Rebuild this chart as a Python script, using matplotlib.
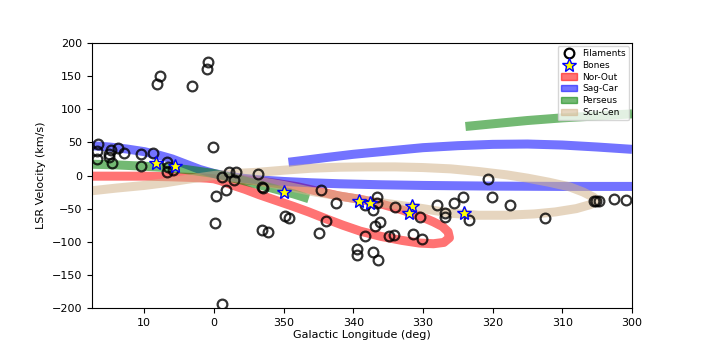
"""LSR velocity vs galactic longitude: filaments, bones and spiral arm tracks."""
import numpy as np
import matplotlib
matplotlib.use("Agg")
import matplotlib.pyplot as plt
from matplotlib.patches import Patch
from matplotlib.lines import Line2D

# --- filaments (l in deg, v in km/s) ---
fil_l = [16.7, 16.8, 16.8, 15.1, 14.8, 15.0, 14.6, 13.7, 12.9, 10.4, 10.5, 8.7,
         6.8, 6.6, 6.7, 5.9, 0.1, 358.8, 357.8, 356.9, 357.1, 353.7, 353.1, 353.0,
         359.7, 358.2, 359.8, 349.8, 349.2, 353.1, 352.3, 358.8, 0.9, 1.0, 7.7, 8.1,
         3.1, 344.7, 342.5, 343.9, 344.9, 338.3, 339.5, 339.4, 337.2, 336.4, 336.6,
         336.6, 338.3, 337.2, 336.2, 336.9, 334.9, 334.1, 334.0, 331.4, 330.2, 330.4,
         328.0, 326.9, 326.8, 325.6, 324.2, 323.4, 320.6, 320.1, 317.5, 312.5, 305.5,
         305.1, 304.8, 302.6, 300.8]
fil_v = [47.5, 37.4, 24.5, 32.5, 38.5, 28.4, 19.3, 41.1, 33.5, 32.5, 14.3, 33.5,
         19.9, 13.3, 5.7, 8.3, 42.6, -2.7, 5.0, 4.8, -7.5, 2.0, -17.8, -18.9,
         -30.5, -21.9, -72.2, -61.1, -64.6, -82.3, -85.3, -194.4, 171.3, 160.8, 150.6, 137.7,
         135.5, -21.9, -42.0, -68.2, -86.3, -90.9, -110.5, -120.0, -115.0, -127.5, -32.0,
         -40.8, -44.5, -52.5, -70.9, -76.2, -90.9, -89.4, -47.5, -87.8, -96.3, -62.2,
         -45.0, -56.6, -63.1, -41.1, -32.5, -66.7, -5.3, -32.8, -44.5, -64.2, -39.2,
         -38.0, -38.0, -35.5, -37.0]

# --- bones ---
bone_l = [8.3, 5.6, 349.9, 339.2, 337.6, 331.6, 332.0, 324.1]
bone_v = [18.4, 14.3, -24.5, -38.2, -41.1, -46.5, -56.6, -56.6]

# --- spiral arm tracks (l wrapped to -180..180) ---
norout_l = [17.5, 14, 10, 6, 3, 1, 0, -1, -2.5, -4.5, -6.5, -9, -11.5, -13.6, -16, -18.5,
            -21, -24, -27, -29.5, -31.5, -33, -33.8, -33.6, -32.8, -31.5, -29.5, -27, -24,
            -21, -18, -15, -12, -9, -6, -3, -1]
norout_v = [-1, -1, -1, -2, -3, -4, -5, -8, -14, -21, -29, -38, -47, -55, -65, -75,
            -84, -92, -98, -102, -103, -101, -94, -85, -77, -70, -61, -52, -43,
            -36, -31, -24, -17, -12, -8, -5, -4]

sagcar_l1 = [17.5, 15, 12.5, 10, 8, 6, 4, 2, 0, -2, -4, -7, -10, -14, -18, -24, -30, -40, -50, -60]
sagcar_v1 = [45, 43, 40, 36, 31, 25, 17, 9, 3, -1, -4, -7, -9, -11, -12.5, -14, -15, -16, -16.5, -16.5]
sagcar_l2 = [-10.7, -13, -16, -20, -25, -30, -35, -40, -45, -50, -55, -60]
sagcar_v2 = [20, 23, 27, 32, 37, 42, 45, 47, 47.5, 46, 43, 39.5]

perseus_l1 = [17.5, 14, 10, 7, 4, 2, 0, -2, -4, -6.5, -9, -11.5, -13.6]
perseus_v1 = [17, 16, 14, 12, 9, 6, 3, -2, -7, -14, -21, -28, -35]
perseus_l2 = [-36.1, -40, -45, -50, -55, -60]
perseus_v2 = [74, 78, 83, 87, 90, 93]

scucen_l = [17.5, 14, 10, 7, 4, 2, 0, -3, -6.5, -10, -14, -18, -22, -26, -30, -34, -38,
            -42, -45, -48, -51, -53, -54.5, -55, -54, -52, -49, -46, -42, -38, -34, -30,
            -26, -22, -18, -14, -10, -6, -3, 0]
scucen_v = [-23, -19, -15, -11, -6, -3, 0, 3, 5, 8, 11, 12.5, 13, 13, 12, 10, 6,
            1, -4, -10, -17, -25, -33, -38, -44, -50, -55, -58, -60, -60, -57, -50,
            -44, -38, -31, -24, -15, -8, -3, 0]

xticks = [10, 0, -10, -20, -30, -40, -50, -60]
yticks = [-200, -150, -100, -50, 0, 50, 100, 150, 200]


def wrap(l):
    l = np.asarray(l, dtype=float)
    return np.where(l > 180, l - 360, l)


fig = plt.figure(figsize=(7.06, 3.53), dpi=100)
ax = fig.add_axes([92 / 706, 1 - 308 / 353, 540 / 706, 265 / 353])

arm_kw = dict(lw=6.5, alpha=0.55, solid_capstyle='butt', solid_joinstyle='round', zorder=1)
ax.plot(norout_l, norout_v, color='red', **arm_kw)
ax.plot(sagcar_l1, sagcar_v1, color='blue', **arm_kw)
ax.plot(sagcar_l2, sagcar_v2, color='blue', **arm_kw)
ax.plot(perseus_l1, perseus_v1, color='green', **arm_kw)
ax.plot(perseus_l2, perseus_v2, color='green', **arm_kw)
ax.plot(scucen_l, scucen_v, color='tan', **arm_kw)

ax.plot(wrap(fil_l), fil_v, 'o', ms=7, mfc='none', mec='black', mew=1.6, alpha=0.8, zorder=3)
ax.plot(wrap(bone_l), bone_v, '*', ms=10, mfc='yellow', mec='blue', mew=1, zorder=4)

ax.set_xlim(17.5, -60)
ax.set_ylim(-200, 200)
ax.set_xticks(xticks)
ax.set_xticklabels([str(int(t % 360)) for t in xticks])
ax.set_yticks(yticks)
ax.tick_params(labelsize=8)
ax.set_xlabel('Galactic Longitude (deg)', fontsize=8, labelpad=2)
ax.set_ylabel('LSR Velocity (km/s)', fontsize=8, labelpad=4)

handles = [
    Line2D([], [], ls='none', marker='o', ms=7, mfc='none', mec='black', mew=1.6),
    Line2D([], [], ls='none', marker='*', ms=10, mfc='yellow', mec='blue', mew=1),
    Patch(color='red', alpha=0.55),
    Patch(color='blue', alpha=0.55),
    Patch(color='green', alpha=0.55),
    Patch(color='tan', alpha=0.55),
]
labels = ['Filaments', 'Bones', 'Nor-Out', 'Sag-Car', 'Perseus', 'Scu-Cen']
ax.legend(handles, labels, loc='upper right', fontsize=6.5, borderaxespad=0.3,
          handlelength=1.7, handletextpad=0.6, labelspacing=0.3)

fig.savefig('out.png', dpi=100)
